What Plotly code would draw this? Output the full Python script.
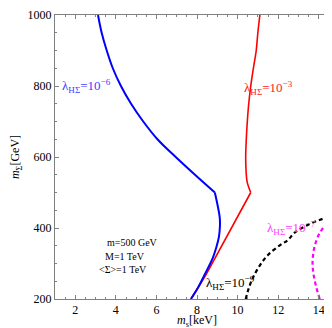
import plotly.graph_objects as go

# lambda_HS = 1e-6 (blue, solid); point 10 is the kink at m_Sigma = 500
blue_x = [3.12, 3.3, 3.55, 3.85, 4.25, 4.75, 5.35, 6.05, 6.95, 7.9, 8.88,
          9.03, 9.12, 9.13, 9.08, 8.95, 8.78, 8.54, 8.3, 8.04, 7.7]
blue_y = [1000, 950, 900, 850, 800, 750, 700, 650, 600, 550, 500,
          460, 430, 405, 375, 345, 316, 287, 260, 231, 200]

# lambda_HS = 1e-3 (red, solid); point 11 is the kink
red_x = [11.1, 11.0, 10.92, 10.78, 10.65, 10.55, 10.48, 10.43, 10.4, 10.42, 10.47, 10.65, 8.44, 8.04, 7.7]
red_y = [1000, 950, 900, 850, 800, 750, 700, 650, 600, 560, 530, 500, 268, 231, 200]

# lambda_HS = 1e-9 (black, dashed)
black_x = [10.4, 10.55, 10.75, 11.1, 11.5, 12.1, 12.48, 12.8, 13.5, 14.2, 14.8, 15.0]
black_y = [200, 230, 259, 295, 324, 352, 366, 386, 410, 426, 438, 446]

# lambda_HS = 1e-7 (magenta, dashed)
mag_x = [14.05, 13.85, 13.72, 13.7, 13.8, 14.05, 14.45, 14.95]
mag_y = [200, 240, 280, 310, 349, 386, 414, 428]

serif = "Liberation Serif"

fig = go.Figure()
fig.add_trace(go.Scatter(x=red_x[:12], y=red_y[:12], mode="lines", line_shape="spline",
                         line=dict(color="#ff0000", width=1.6)))
fig.add_trace(go.Scatter(x=red_x[11:], y=red_y[11:], mode="lines",
                         line=dict(color="#ff0000", width=1.6)))
fig.add_trace(go.Scatter(x=blue_x[:11], y=blue_y[:11], mode="lines", line_shape="spline",
                         line=dict(color="#0000ff", width=2)))
fig.add_trace(go.Scatter(x=blue_x[10:], y=blue_y[10:], mode="lines", line_shape="spline",
                         line=dict(color="#0000ff", width=2)))
fig.add_trace(go.Scatter(x=black_x, y=black_y, mode="lines", line_shape="spline",
                         line=dict(color="black", width=2.2, dash="4px,3px")))
fig.add_trace(go.Scatter(x=mag_x, y=mag_y, mode="lines", line_shape="spline",
                         line=dict(color="#ff00ff", width=2.2, dash="4px,3px")))

labels = [
    (1.3, 800, "λ<sub>HΣ</sub>=10<sup>−6</sup>", "#4040ff"),
    (10.25, 795, "λ<sub>HΣ</sub>=10<sup>−3</sup>", "#ff2020"),
    (11.4, 400, "λ<sub>HΣ</sub>=10<sup>−7</sup>", "#ff40ff"),
    (8.4, 245, "λ<sub>HΣ</sub>=10<sup>−9</sup>", "black"),
]
for x, y, t, c in labels:
    fig.add_annotation(x=x, y=y, text=t, showarrow=False, xanchor="left", borderpad=0,
                       font=dict(family=serif, size=13, color=c))

notes = [(4.82, 360, "m=500 GeV"), (4.45, 320, "M=1 TeV"), (4.33, 282, "&lt;Σ&gt;=1 TeV")]
for x, y, t in notes:
    fig.add_annotation(x=x, y=y, text=t, showarrow=False, borderpad=0,
                       font=dict(family=serif, size=10, color="black"))

# axis titles placed as annotations so they sit where the reference has them
fig.add_annotation(xref="paper", yref="paper", x=0.5, y=-0.112, yanchor="bottom",
                   text="<i>m</i><sub>s</sub>[keV]", showarrow=False,
                   font=dict(family=serif, size=12, color="black"))
fig.add_annotation(xref="paper", yref="paper", x=-0.137, y=0.5, xanchor="center",
                   textangle=-90, text="<i>m</i><sub>Σ</sub>[GeV]", showarrow=False,
                   font=dict(family=serif, size=12, color="black"))

axis_common = dict(showgrid=False, zeroline=False, showline=True, mirror="allticks",
                   linecolor="#808080", linewidth=1, ticks="inside", ticklen=4,
                   tickcolor="#808080", tickfont=dict(family=serif, size=12, color="black"))

fig.update_xaxes(range=[1, 15], tickvals=[2, 4, 6, 8, 10, 12, 14],
                 minor=dict(dtick=0.5, ticks="inside", ticklen=2, tickcolor="#808080"),
                 **axis_common)
fig.update_yaxes(range=[200, 1000], tickvals=[200, 400, 600, 800, 1000],
                 minor=dict(dtick=50, ticks="inside", ticklen=2, tickcolor="#808080"),
                 **axis_common)

fig.update_layout(width=332, height=328, showlegend=False,
                  margin=dict(l=47, r=1, t=7, b=37),
                  plot_bgcolor="white", paper_bgcolor="white")

fig.write_html("out.html")
